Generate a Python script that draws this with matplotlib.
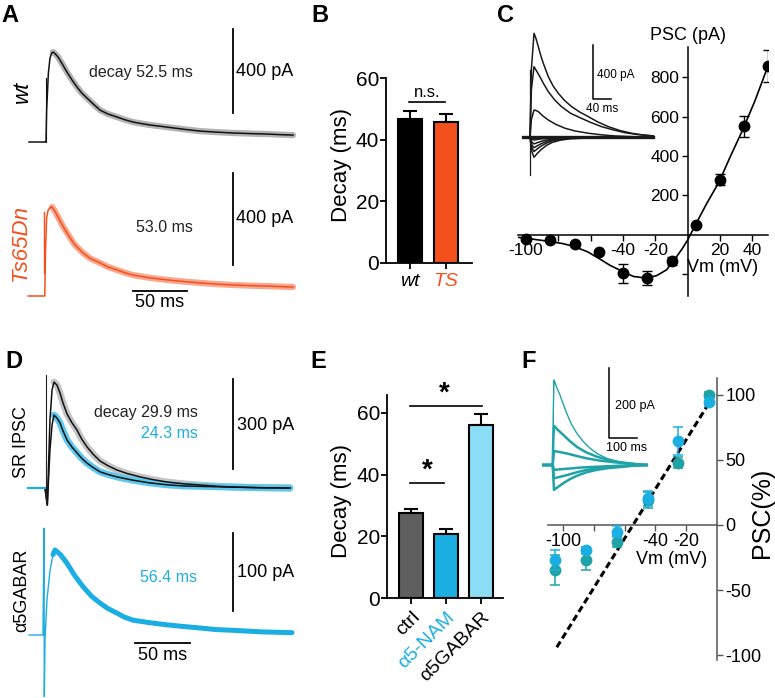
import matplotlib
matplotlib.use('Agg')
import matplotlib.pyplot as plt

plt.rcParams['font.family'] = ['Liberation Sans', 'DejaVu Sans']
NARROW = ['Liberation Sans Narrow', 'Liberation Sans', 'DejaVu Sans']

W, H = 775, 698
fig = plt.figure(figsize=(W / 100, H / 100), dpi=100)

RED = '#F4501E'
RED_BAND = '#F7A88E'
CYAN = '#1BAEE3'
CYAN_BAND = '#5CC8EE'
TEAL = '#1FA3A6'
GRAY_BAR = '#5f5f5f'
LIGHT_CYAN = '#8BDDF6'

# ---------------- data ----------------
# Panel A traces (ms, pA)
wt_t = [-15.7, -0.9, 0.0, 0.6, 2.2, 3.7, 5.2, 6.5, 8.5, 11.1, 15.0, 19.4, 24.0, 28.7, 33.0, 38.0, 44.0, 50.0, 57.0,
        65.7, 73.0, 80.6, 88.0, 96.3, 104.0, 112.0, 127.0, 142.6, 158.0, 173.0, 189.0, 204.6, 217.0, 228.7]
wt_i = [0, 0, 0, 152, 328, 400, 423, 428, 420, 405, 372, 333, 296, 262, 234, 209, 180, 152, 134,
        119, 106, 95, 88, 81, 76, 71, 61, 52, 47, 43, 40, 38, 35, 33]
wt_art_i = [0, 305]
ts_t = [-15.7, -0.2, 0.5, 1.5, 3.0, 5.0, 6.5, 9.0, 12.0, 16.0, 20.4, 27.0, 35.2, 42.0, 50.9, 58.0, 66.7, 74.0, 81.5,
        97.0, 113.0, 128.0, 143.5, 158.0, 174.0, 190.0, 205.6, 217.0, 229.6]
ts_i = [0, 0, 200, 340, 375, 385, 387, 370, 344, 308, 274, 226, 187, 163, 144, 127, 113, 101, 91,
        79, 70, 63, 57, 52, 48, 45, 43, 41, 39]
ts_art_i = [100, 365]

# Panel B
b_groups = ['wt', 'TS']
b_decay = [46.7, 45.7]
b_err = [2.6, 2.6]

# Panel C IV
iv_vm = [-100, -85, -70, -55, -40, -25, -10, 5, 20, 35, 50]
iv_psc = [-20, -25, -47, -84, -193, -218, -131, 50, 280, 550, 855]
iv_err = [6, 6, 6, 6, 48, 34, 19, 6, 29, 55, 80]
iv_fit_vm = [-104.7, -95, -85.2, -77, -70.1, -62, -55.3, -48, -40.4, -33.6, -25.8, -19.2, -13, -6.8, -3, 0, 4.1,
             11.8, 19.4, 26.2, 33.8, 41.6, 48.9]
iv_fit_psc = [-12, -22, -33, -44, -59, -85, -117, -154, -184, -210, -218, -206, -176, -109, -65, -25, 40,
              160, 268, 394, 528, 679, 838]
# Panel C inset traces
c_pos_t = [[-14.8, 0, 3, 8.9, 13, 18.5, 24, 29.6, 40.7, 51, 62.9, 77, 92.6, 110, 129.6, 150, 174, 200, 226, 250, 274],
           [-14.8, 0, 3, 8.9, 14, 22, 30, 40.7, 55, 70, 90, 114, 135, 159, 185, 211, 240, 274],
           [-14.8, 0, 3, 8.9, 13, 18.5, 28, 40.7, 58, 77.8, 100, 129.6, 160, 189, 230, 274]]
c_pos_i = [[0, 0, 500, 770, 735, 671, 605, 548, 449, 382, 326, 272, 227, 188, 153, 115, 79, 50, 30, 18, 10],
           [0, 0, 350, 523, 495, 449, 398, 338, 276, 227, 178, 141, 110, 79, 55, 34, 20, 10],
           [0, 0, 130, 202, 199, 190, 160, 128, 95, 67, 47, 30, 18, 10, 4, 0]]
c_neg_t = [-14.8, 0, 4, 8.9, 16, 25, 37, 50, 68, 90, 130, 274]
c_neg_i = [[0, 0, -15, -20, -16, -12, -8, -5, -3, -2, -1, 0],
           [0, 0, -35, -49, -40, -30, -20, -12, -7, -4, -2, 0],
           [0, 0, -55, -77, -63, -47, -31, -19, -11, -6, -3, 0],
           [0, 0, -75, -106, -86, -64, -42, -26, -15, -8, -4, 0],
           [0, 0, -105, -148, -120, -90, -59, -37, -21, -11, -5, 0]]

# Panel D traces
sr_ctrl_t = [-16.4, -0.9, 1.2, 3.6, 5.5, 7.3, 10.0, 12.7, 15.5, 19.1, 23.5, 28.2, 32.5, 37.3, 43.0, 49.1, 56.5,
             64.5, 74.0, 85.5, 97.0, 110.0, 125.0, 140.0, 155.0, 170.0, 195.0, 221.8]
sr_ctrl_i = [0, 0, -57, 227, 327, 353, 343, 317, 283, 247, 218, 193, 163, 137, 112, 90, 74,
             60, 48, 37, 28, 20, 14, 10, 6, 3, 1, 0]
sr_nam_t = [-16.4, -0.9, 1.2, 3.6, 5.5, 7.3, 10.0, 12.7, 15.5, 19.1, 23.5, 28.2, 32.5, 37.3, 43.0, 49.1, 56.5,
            64.5, 79.0, 94.5, 109.0, 124.5, 145.0, 170.0, 195.0, 221.8]
sr_nam_i = [0, 0, -57, 127, 210, 243, 233, 217, 190, 160, 137, 117, 99, 83, 68, 54, 45,
            37, 26, 17, 11, 7, 5, 3, 1, 0]
a5_t = [-13.6, -0.9, 0.0, 0.3, 0.9, 2.7, 5.5, 8.2, 10.0, 15.0, 20.9, 28.0, 35.5, 43.0, 50.9, 58.0, 66.4, 73.0, 80.9,
        95.0, 111.8, 126.0, 141.8, 156.0, 171.8, 198.0, 225.5]
a5_i = [0, 0, 137, -79, -6, 45, 83, 103, 109, 103, 92, 76, 62, 50, 41, 34, 28, 23, 19,
        16, 13, 11, 9, 7, 6, 4, 3]

# Panel E
e_groups = ['ctrl', 'α5-NAM', 'α5GABAR']
e_decay = [27.6, 20.8, 56.1]
e_err = [1.3, 1.6, 3.6]

# Panel F
f_vm = [-105, -85, -65, -45, -25, -5]
f_cyan = [-26.8, -19.6, -5.1, 20.4, 64.5, 94.4]
f_cyan_err = [7.6, 3, 4, 6, 11, 3]
f_teal = [-34.4, -26.8, -12.8, 19.1, 48, 100]
f_teal_err = [11.5, 8, 4, 6, 4, 2]
f_fit_vm = [-104, -4]
f_fit_psc = [-94, 96]
f_pos_t = [[-33.6, 0, 2, 4.6, 14, 26, 38, 50, 66, 86, 108, 133, 160, 193, 225, 264, 300, 336],
           [-33.6, 0, 2, 4.6, 20, 38, 60, 86, 120, 157, 197, 240, 290, 336],
           [-33.6, 0, 4.6, 25, 50, 85, 121, 165, 217, 275, 336]]
f_pos_i = [[0, 0, 150, 243, 222, 200, 173, 148, 118, 91, 68, 48, 32, 19, 11, 5, 2, 0],
           [0, 0, 70, 112, 99, 86, 69, 52, 36, 24, 15, 8, 3, 0],
           [0, 0, 40, 37, 33, 26, 19, 13, 8, 4, 0]]
f_neg_t = [[-33.6, 0, 4.6, 30, 62, 105, 157, 240, 336],
           [-33.6, 0, 4.6, 25, 50, 85, 121, 165, 217, 275, 336],
           [-33.6, 0, 4.6, 20, 38, 60, 86, 120, 157, 197, 240, 290, 336]]
f_neg_i = [[0, 0, -14, -12, -10, -7, -5, -2, 0],
           [0, 0, -38, -34, -29, -21, -14, -9, -5, -2, 0],
           [0, 0, -71, -62, -52, -41, -31, -21, -14, -9, -6, -2, 0]]


# ---------------- helpers ----------------
def px_axes(x0, y0, x1, y1):
    return fig.add_axes([x0 / W, 1 - y1 / H, (x1 - x0) / W, (y1 - y0) / H])


def trace_axes(x0, y0, x1, y1, xt0, yb, sx, sy):
    ax = px_axes(x0, y0, x1, y1)
    ax.set_xlim((x0 - xt0) / sx, (x1 - xt0) / sx)
    ax.set_ylim((yb - y1) / sy, (yb - y0) / sy)
    ax.axis('off')
    return ax


def ftext(x, y, s, **kw):
    fig.text(x / W, 1 - y / H, s, **kw)


def letter(x, y, s):
    ftext(x, y, s, fontsize=17, fontweight='bold', ha='center', va='center')


# ---------------- Panel A ----------------
axA1 = trace_axes(20, 20, 300, 155, 46, 142, 1.08, 0.21)
axA1.plot(wt_t[7:], wt_i[7:], color='#b3b3b3', lw=4.5, solid_capstyle='round')
axA1.plot(wt_t, wt_i, color='#111111', lw=1.1)
axA1.plot([0, 0], wt_art_i, color='#111111', lw=0.8)
axA1.plot([173, 173], [138, 538], color='black', lw=1.3)
axA1.text(176, 338, '400 pA', fontsize=13, va='center', ha='left')
axA1.text(88, 333, 'decay 52.5 ms', fontsize=11.5, va='center', ha='center', color='#222222')

axA2 = trace_axes(20, 160, 300, 315, 45, 296, 1.08, 0.23)
axA2.plot(ts_t[6:], ts_i[6:], color=RED_BAND, lw=4.5, solid_capstyle='round')
axA2.plot(ts_t, ts_i, color=RED, lw=1.1)
axA2.plot([-0.6, -0.6], ts_art_i, color=RED, lw=1.0)
axA2.plot([174, 174], [135, 535], color='black', lw=1.3)
axA2.text(177, 335, '400 pA', fontsize=13, va='center', ha='left')
axA2.text(111, 296, '53.0 ms', fontsize=11.5, va='center', ha='center', color='#222222')
axA2.plot([81.5, 131.5], [22, 22], color='black', lw=1.3)
axA2.text(106.5, -30, '50 ms', fontsize=13, va='center', ha='center')

ftext(22, 92, 'wt', fontsize=16, style='italic', rotation=90, ha='center', va='center')
ftext(20, 243, 'Ts65Dn', fontsize=16, style='italic', rotation=90, ha='center', va='center', color=RED)


# ---------------- bar panels ----------------
def bar_panel(box, ymax, means, errs, colors, width, xr):
    ax = px_axes(*box)
    x = list(range(len(means)))
    ax.bar(x, means, width=width, color=colors, edgecolor='black', linewidth=1.5, zorder=2)
    ax.errorbar(x, means, yerr=[[0] * len(means), errs], fmt='none', ecolor='black',
                elinewidth=1.5, capsize=4.8, capthick=1.5, zorder=1)
    ax.set_ylim(0, ymax)
    ax.set_xlim(*xr)
    for s in ['top', 'right']:
        ax.spines[s].set_visible(False)
    for s in ['left', 'bottom']:
        ax.spines[s].set_linewidth(1.3)
    ax.set_yticks([0, 20, 40, 60])
    ax.tick_params(axis='both', direction='out', length=4, width=1.3)
    for lab in ax.get_yticklabels():
        lab.set_fontfamily(NARROW)
        lab.set_fontsize(15)
    ax.tick_params(axis='y', pad=1)
    ax.set_xticks(x)
    return ax


axB = bar_panel((386, 78, 472, 263), 60, b_decay, b_err, ['black', RED], 0.69, (-0.667, 1.72))
axB.set_xticklabels(b_groups, fontsize=14, style='italic', fontfamily=NARROW)
axB.get_xticklabels()[1].set_color(RED)
axB.plot([-0.03, 0.97], [52.2, 52.2], color='black', lw=1.2, clip_on=False)
axB.text(0.47, 52.8, 'n.s.', fontsize=12, ha='center', va='bottom', fontfamily=NARROW)
ftext(341, 165, 'Decay (ms)', fontsize=16, rotation=90, ha='center', va='center')

axE = bar_panel((387, 395, 503, 598), 65.8, e_decay, e_err, [GRAY_BAR, CYAN, LIGHT_CYAN], 0.66, (-0.686, 2.63))
axE.set_xticklabels(e_groups, fontsize=14, rotation=45, ha='right', va='top',
                    rotation_mode='anchor', fontfamily=NARROW)
axE.get_xticklabels()[1].set_color(CYAN)
axE.plot([-0.03, 2.03], [62.3, 62.3], color='black', lw=1.2, clip_on=False)
axE.text(0.94, 62.0, '*', fontsize=20, ha='center', va='bottom', fontweight='bold')
axE.plot([-0.03, 0.94], [37.3, 37.3], color='black', lw=1.2, clip_on=False)
axE.text(0.47, 37.0, '*', fontsize=20, ha='center', va='bottom', fontweight='bold')
ftext(341, 501, 'Decay (ms)', fontsize=16, rotation=90, ha='center', va='center')

# ---------------- Panel C ----------------
axC = px_axes(518, 47, 768, 296)
axC.set_xlim(-105, 49.7)
axC.set_ylim(-309, 952)
axC.plot(iv_fit_vm, iv_fit_psc, color='black', lw=1.2)
axC.errorbar(iv_vm, iv_psc, yerr=iv_err, fmt='o', color='black', ms=7.5,
             elinewidth=1.0, capsize=3.5, capthick=1.0)
for s in ['top', 'right']:
    axC.spines[s].set_visible(False)
axC.spines['left'].set_position(('data', 0))
axC.spines['bottom'].set_position(('data', 0))
for s in ['left', 'bottom']:
    axC.spines[s].set_linewidth(1.1)
axC.set_yticks([-200, 200, 400, 600, 800])
axC.set_yticklabels(['', '200', '400', '600', '800'], fontfamily=NARROW, fontsize=12.5)
axC.set_xticks([-100, -80, -60, -40, -20, 20, 40])
axC.set_xticklabels(['-100', '', '', '-40', '-20', '20', '40'], fontfamily=NARROW, fontsize=12.5)
axC.tick_params(direction='out', length=4, width=1.0, pad=2)
ftext(688, 35, 'PSC (pA)', fontsize=13, ha='center', va='center')
ftext(723, 267, 'Vm (mV)', fontsize=13, ha='center', va='center')

axCi = trace_axes(518, 25, 662, 185, 530, 137.3, 0.45, 0.135)
for tt, ii in zip(c_pos_t, c_pos_i):
    axCi.plot(tt, ii, color='#1a1a1a', lw=1.1)
for ii in c_neg_i:
    axCi.plot(c_neg_t, ii, color='#1a1a1a', lw=1.1)
axCi.plot([c_neg_t[0], c_neg_t[-1]], [0, 0], color='#1a1a1a', lw=2.4)
axCi.plot([0, 0], [-281, 500], color='#1a1a1a', lw=0.9)
axCi.plot([140, 140, 180], [684, 284, 284], color='black', lw=1.1)
axCi.text(149, 461, '400 pA', fontsize=8.5, va='center', ha='left')
axCi.text(160, 209, '40 ms', fontsize=8.5, va='center', ha='center')

# ---------------- Panel D ----------------
axD1 = trace_axes(20, 360, 300, 520, 46, 488, 1.1, 0.3)
axD1.plot(sr_ctrl_t[5:], sr_ctrl_i[5:], color='#c4c4c4', lw=5, solid_capstyle='round')
axD1.plot(sr_nam_t[5:], sr_nam_i[5:], color=CYAN_BAND, lw=5, solid_capstyle='round')
axD1.plot(sr_ctrl_t, sr_ctrl_i, color='#111111', lw=1.1)
axD1.plot(sr_nam_t, sr_nam_i, color='#111111', lw=1.1)
axD1.plot(sr_nam_t[:2], sr_nam_i[:2], color=CYAN, lw=1.6)
axD1.plot([-0.3, -0.3], [-50, 377], color='#222222', lw=0.8)
axD1.plot([170, 170], [63, 363], color='black', lw=1.3)
axD1.text(173.6, 210, '300 pA', fontsize=13, va='center', ha='left')
axD1.text(90.9, 253, 'decay 29.9 ms', fontsize=11.5, va='center', ha='center', color='#222222')
axD1.text(111.8, 180, '24.3 ms', fontsize=11.5, va='center', ha='center', color=CYAN)

axD2 = trace_axes(20, 520, 300, 698, 44, 635, 1.1, 0.78)
axD2.plot(a5_t, a5_i, color=CYAN, lw=1.0)
axD2.plot(a5_t[7:], a5_i[7:], color=CYAN, lw=3.6, solid_capstyle='round')
axD2.plot([171.8, 171.8], [31, 131], color='black', lw=1.3)
axD2.text(175.5, 79.5, '100 pA', fontsize=13, va='center', ha='left')
axD2.text(113.6, 74, '56.4 ms', fontsize=11.5, va='center', ha='center', color=CYAN)
axD2.plot([82.7, 132.7], [-10.3, -10.3], color='black', lw=1.3)
axD2.text(107.7, -26, '50 ms', fontsize=13, va='center', ha='center')

ftext(22, 442, 'SR IPSC', fontsize=13, rotation=90, ha='center', va='center')
ftext(22, 590, 'α5GABAR', fontsize=13, rotation=90, ha='center', va='center')

# ---------------- Panel F ----------------
axF = px_axes(548, 378, 717, 660)
axF.set_xlim(-109.7, 0)
axF.set_ylim(-103.8, 113)
axF.plot(f_fit_vm, f_fit_psc, color='black', lw=2.2, ls=(0, (2.2, 1.2)), zorder=1)
axF.errorbar(f_vm, f_teal, yerr=f_teal_err, fmt='o', color=TEAL, ms=7.5,
             elinewidth=1.1, capsize=3.5, capthick=1.1, zorder=2)
axF.errorbar(f_vm, f_cyan, yerr=f_cyan_err, fmt='o', color=CYAN, ms=7.5,
             elinewidth=1.1, capsize=3.5, capthick=1.1, zorder=3)
for s in ['top', 'left']:
    axF.spines[s].set_visible(False)
axF.spines['bottom'].set_position(('data', 0))
for s in ['right', 'bottom']:
    axF.spines[s].set_linewidth(1.1)
    axF.spines[s].set_color('#555555')
axF.yaxis.tick_right()
axF.set_yticks([-100, -50, 0, 50, 100])
axF.set_yticklabels(['-100', '-50', '0', '50', '100'], fontfamily=NARROW, fontsize=13)
axF.set_xticks([-100, -80, -60, -40, -20])
axF.set_xticklabels(['-100', '', '', '-40', '-20'], fontfamily=NARROW, fontsize=13)
axF.tick_params(direction='out', length=4, width=1.0, pad=2, color='#555555')
ftext(672, 560, 'Vm (mV)', fontsize=13, ha='center', va='center')
ftext(762, 513, 'PSC(%)', fontsize=18, rotation=90, ha='center', va='center')

axFi = trace_axes(538, 355, 662, 500, 552.7, 465, 0.28, 0.35)
for k, (tt, ii) in enumerate(zip(f_pos_t, f_pos_i)):
    axFi.plot(tt, ii, color=TEAL, lw=1.0 if k == 0 else 1.8)
for tt, ii in zip(f_neg_t, f_neg_i):
    axFi.plot(tt, ii, color=TEAL, lw=1.8)
axFi.plot([0, 0], [-71, 243], color=TEAL, lw=0.7)
axFi.plot([201, 201, 301], [277, 77, 77], color='black', lw=1.1)
axFi.text(222, 169, '200 pA', fontsize=9, va='center', ha='left')
axFi.text(190, 49, '100 ms', fontsize=9, va='center', ha='left')

# ---------------- panel letters ----------------
letter(10, 15, 'A')
letter(320, 15, 'B')
letter(505, 15, 'C')
letter(14, 362, 'D')
letter(318, 362, 'E')
letter(529, 361, 'F')

fig.savefig('out.png', dpi=100)
